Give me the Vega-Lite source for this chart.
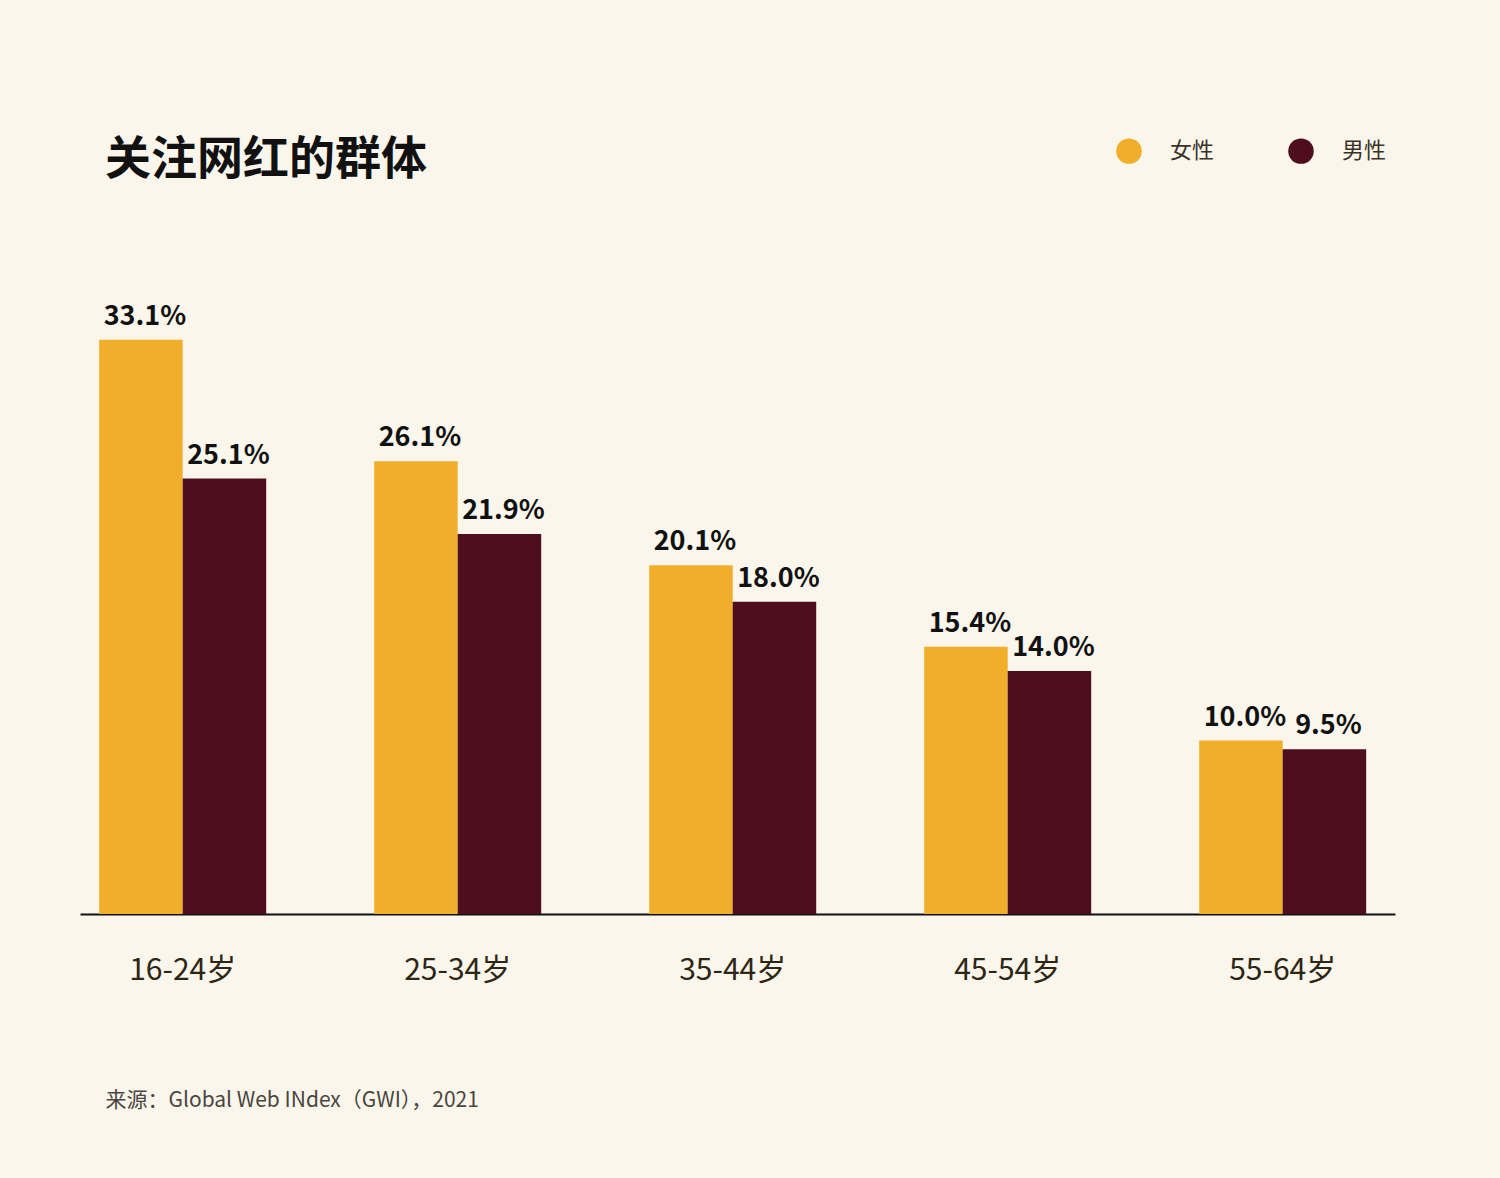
{
  "$schema": "https://vega.github.io/schema/vega-lite/v6.json",
  "width": 1315,
  "height": 694,
  "autosize": "none",
  "padding": {"left": 80, "top": 220, "right": 105, "bottom": 264},
  "background": "#FAF6EB",
  "title": {
    "text": "关注网红的群体",
    "anchor": "start",
    "frame": "group",
    "dx": 25,
    "offset": -46,
    "fontSize": 46,
    "fontWeight": "bold",
    "font": "Noto Sans CJK SC",
    "color": "#111111"
  },
  "config": {
    "view": {"stroke": null},
    "font": "Noto Sans CJK SC"
  },
  "data": {
    "values": [
      {"age": "16-24岁", "sex": "女性", "value": 33.1, "label": "33.1%"},
      {"age": "16-24岁", "sex": "男性", "value": 25.1, "label": "25.1%"},
      {"age": "25-34岁", "sex": "女性", "value": 26.1, "label": "26.1%"},
      {"age": "25-34岁", "sex": "男性", "value": 21.9, "label": "21.9%"},
      {"age": "35-44岁", "sex": "女性", "value": 20.1, "label": "20.1%"},
      {"age": "35-44岁", "sex": "男性", "value": 18.0, "label": "18.0%"},
      {"age": "45-54岁", "sex": "女性", "value": 15.4, "label": "15.4%"},
      {"age": "45-54岁", "sex": "男性", "value": 14.0, "label": "14.0%"},
      {"age": "55-64岁", "sex": "女性", "value": 10.0, "label": "10.0%"},
      {"age": "55-64岁", "sex": "男性", "value": 9.5, "label": "9.5%"}
    ]
  },
  "encoding": {
    "x": {
      "field": "age",
      "type": "nominal",
      "sort": null,
      "scale": {"paddingInner": 0.3927, "paddingOuter": 0.0873, "align": 0.4},
      "axis": {
        "title": "来源：Global Web INdex（GWI），2021",
        "titleX": 25,
        "titleY": 186,
        "titleAnchor": "start",
        "titleAlign": "left",
        "titleBaseline": "middle",
        "titleFontSize": 21,
        "titleFontWeight": "normal",
        "titleColor": "#4A4540",
        "titleFont": "Noto Sans CJK SC",
        "labelAngle": 0,
        "labelFontSize": 30,
        "labelColor": "#2E2614",
        "labelPadding": 41,
        "ticks": false,
        "domainColor": "#111111",
        "domainWidth": 2
      }
    },
    "xOffset": {
      "field": "sex",
      "type": "nominal",
      "sort": ["女性", "男性"],
      "scale": {"paddingInner": 0, "paddingOuter": 0}
    },
    "y": {
      "field": "value",
      "type": "quantitative",
      "scale": {"domain": [0, 40]},
      "axis": null
    }
  },
  "layer": [
    {
      "mark": {"type": "bar"},
      "encoding": {
        "color": {
          "field": "sex",
          "type": "nominal",
          "scale": {"domain": ["女性", "男性"], "range": ["#F0AE2B", "#4E0E1E"]},
          "legend": {
            "title": null,
            "orient": "none",
            "legendX": 1036,
            "legendY": -82,
            "direction": "horizontal",
            "symbolType": "circle",
            "symbolSize": 650,
            "symbolStrokeWidth": 0,
            "labelFontSize": 22,
            "labelColor": "#3A3228",
            "labelOffset": 28,
            "columnPadding": 73,
            "padding": 0
          }
        }
      }
    },
    {
      "mark": {"type": "text", "baseline": "alphabetic", "dy": -15, "dx": 4, "fontSize": 27, "fontWeight": "bold", "color": "#111111"},
      "encoding": {
        "text": {"field": "label", "type": "nominal"},
        "detail": {"field": "sex"}
      }
    }
  ]
}
